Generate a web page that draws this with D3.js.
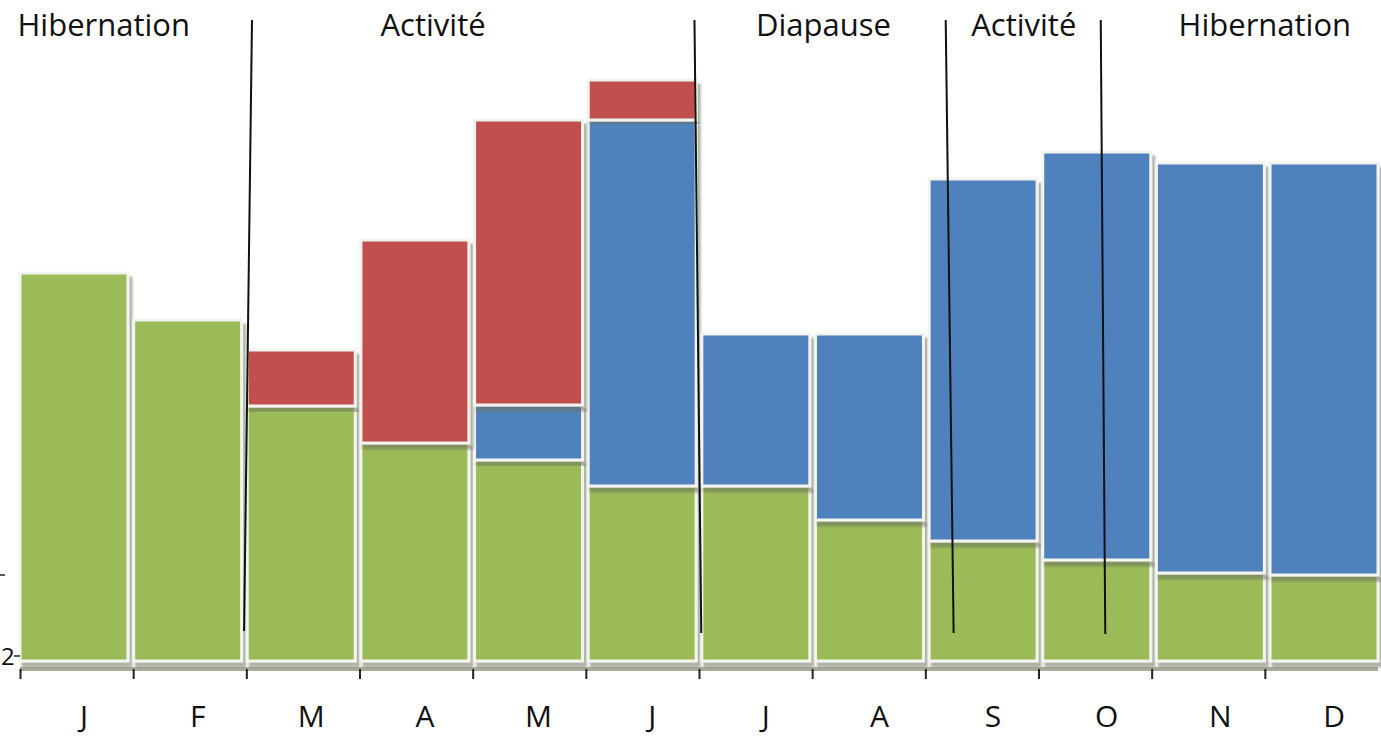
<!DOCTYPE html>
<html>
<head>
<meta charset="utf-8">
<script src="https://cdn.jsdelivr.net/npm/d3@7"></script>
<style>
  body { margin: 0; background: #fff; }
  svg { display: block; font-family: "Open Sans", "Noto Sans", sans-serif; }
</style>
</head>
<body>
<svg id="chart"></svg>
<script>
// months and the three stacked series
const months = ["J", "F", "M", "A", "M", "J", "J", "A", "S", "O", "N", "D"];
const green = [38.8, 34.1, 25.5, 21.8, 20.1, 17.5, 17.5, 14.1, 12.0, 10.1, 8.8, 8.6];
const blue = [0, 0, 0, 0, 5.5, 36.6, 15.2, 18.6, 36.2, 40.8, 41.0, 41.2];
const red = [0, 0, 5.6, 20.3, 28.5, 4.0, 0, 0, 0, 0, 0, 0];

// phase labels on top, with the divider lines (x in month units, y in value units)
const phases = ["Hibernation", "Activité", "Diapause", "Activité", "Hibernation"];
const phaseCenters = [0.74, 3.65, 7.1, 8.87, 11.0];
const dividers = [
  { x1: 2.05, y1: 64.1, x2: 1.98, y2: 3.0 },
  { x1: 5.96, y1: 64.1, x2: 6.02, y2: 2.8 },
  { x1: 8.18, y1: 64.1, x2: 8.25, y2: 2.8 },
  { x1: 9.55, y1: 64.1, x2: 9.59, y2: 2.7 }
];

const width = 1381, height = 736;
const margin = { top: 61, bottom: 75, left: 20, right: 3 };

const svg = d3.select("#chart").attr("width", width).attr("height", height);

const defs = svg.append("defs");
defs.append("filter")
  .attr("id", "shadow")
  .attr("x", "-5%").attr("y", "-5%").attr("width", "115%").attr("height", "115%")
  .append("feDropShadow")
  .attr("dx", 3).attr("dy", 5).attr("stdDeviation", 1)
  .attr("flood-color", "#6e735f").attr("flood-opacity", 0.55);

const x = d3.scaleBand()
  .domain(d3.range(months.length))
  .range([margin.left, width - margin.right])
  .paddingInner(0.05)
  .paddingOuter(0);

const xl = d3.scaleLinear().domain([0, 12]).range([margin.left, width - margin.right]);

const y = d3.scaleLinear().domain([0, 60]).range([height - margin.bottom, margin.top]);

// stack
const rows = months.map((m, i) => ({ i, green: green[i], blue: blue[i], red: red[i] }));
const keys = ["green", "blue", "red"];
const colors = { green: "#9bbb59", blue: "#4f81bd", red: "#c0504d" };
const series = d3.stack().keys(keys)(rows);

// x axis baseline (greyish band) and ticks
const base = height - margin.bottom;
svg.append("line")
  .attr("x1", margin.left).attr("x2", width - margin.right)
  .attr("y1", base + 8).attr("y2", base + 8)
  .attr("stroke", "#a9ae9b").attr("stroke-width", 4);

const layer = svg.append("g")
  .selectAll("g")
  .data(series)
  .join("g")
  .attr("fill", d => colors[d.key]);

layer.selectAll("rect")
  .data(d => d.filter(s => s[1] - s[0] > 0))
  .join("rect")
  .attr("x", d => x(d.data.i))
  .attr("width", x.bandwidth())
  .attr("y", d => y(d[1]))
  .attr("height", d => y(d[0]) - y(d[1]))
  .attr("stroke", "#f3f4ef")
  .attr("stroke-width", 3)
  .attr("filter", "url(#shadow)");

const xaxis = d3.axisBottom(xl).tickValues(d3.range(0, 12)).tickSize(10).tickFormat("");
svg.append("g")
  .attr("transform", `translate(0,${base + 8})`)
  .call(xaxis)
  .call(g => g.select(".domain").remove())
  .call(g => g.selectAll(".tick line").attr("stroke", "#222").attr("stroke-width", 2));

svg.append("g")
  .selectAll("text")
  .data(months)
  .join("text")
  .attr("x", (d, i) => x(i) + x.bandwidth() / 2 + 10)
  .attr("y", 727)
  .attr("text-anchor", "middle")
  .attr("font-size", 30)
  .attr("fill", "#111")
  .text(d => d);

// left axis remnants (mostly cut off in the original)
const yTicks = [0.5, 8.6];
const yTickLabels = ["2", ""];
svg.append("g")
  .selectAll("line")
  .data(yTicks)
  .join("line")
  .attr("x1", (d, i) => i === 0 ? 14 : 0)
  .attr("x2", (d, i) => i === 0 ? 20 : 5)
  .attr("y1", d => y(d)).attr("y2", d => y(d))
  .attr("stroke", "#222").attr("stroke-width", 1.5);
svg.append("g")
  .selectAll("text")
  .data(yTicks)
  .join("text")
  .attr("x", 1)
  .attr("y", d => y(d) + 9)
  .attr("text-anchor", "start")
  .attr("font-size", 24)
  .attr("fill", "#111")
  .text((d, i) => yTickLabels[i]);

// phase dividers
svg.append("g")
  .selectAll("line")
  .data(dividers)
  .join("line")
  .attr("x1", d => xl(d.x1)).attr("y1", d => y(d.y1))
  .attr("x2", d => xl(d.x2)).attr("y2", d => y(d.y2))
  .attr("stroke", "#111").attr("stroke-width", 2);

svg.append("g")
  .selectAll("text")
  .data(phases)
  .join("text")
  .attr("x", (d, i) => xl(phaseCenters[i]))
  .attr("y", 36)
  .attr("text-anchor", "middle")
  .attr("font-size", 31)
  .attr("fill", "#111")
  .text(d => d);
</script>
</body>
</html>
